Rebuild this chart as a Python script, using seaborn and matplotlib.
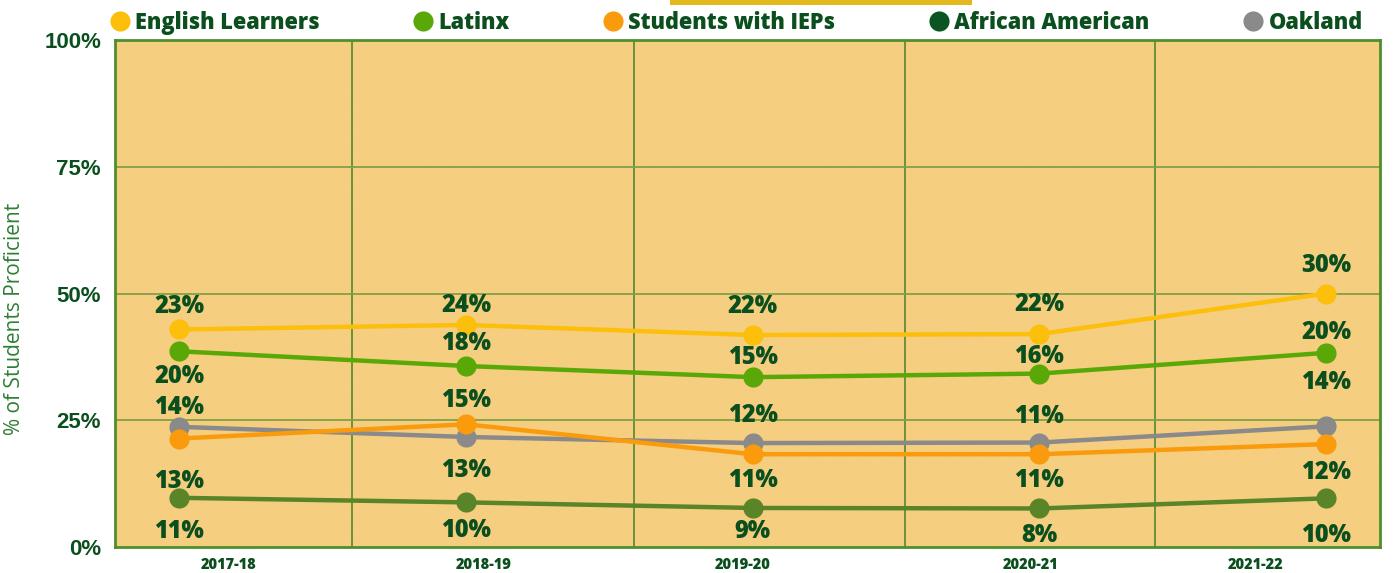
import numpy as np
import pandas as pd
import matplotlib
matplotlib.use('Agg')
import matplotlib.pyplot as plt
import seaborn as sns
from matplotlib.lines import Line2D
from matplotlib.patches import Rectangle

# ---------------- data ----------------
years = ['2017-18', '2018-19', '2019-20', '2020-21', '2021-22']
series_names = ['English Learners', 'Latinx', 'Students with IEPs', 'African American', 'Oakland']

english_learners = [42.9, 43.8, 41.8, 42.0, 50.0]
latinx = [38.6, 35.7, 33.5, 34.2, 38.3]
students_with_ieps = [21.4, 24.2, 18.3, 18.3, 20.3]
african_american = [9.7, 8.8, 7.7, 7.6, 9.6]
oakland = [23.7, 21.7, 20.5, 20.6, 23.8]

el_labels = ['23%', '24%', '22%', '22%', '30%']
latinx_labels = ['20%', '18%', '15%', '16%', '20%']
iep_labels = ['14%', '15%', '12%', '11%', '14%']
oakland_labels = ['13%', '13%', '11%', '11%', '12%']
aa_labels = ['11%', '10%', '9%', '8%', '10%']

y_ticks = [0, 25, 50, 75, 100]
y_tick_labels = ['0%', '25%', '50%', '75%', '100%']

# ---------------- styles / layout ----------------
line_colors = {'English Learners': '#FBBF0C', 'Latinx': '#5AA808',
               'Students with IEPs': '#F99B0C', 'African American': '#5A8428',
               'Oakland': '#8A8A8A'}
legend_colors = {'English Learners': '#FBBF0C', 'Latinx': '#5AA808',
                 'Students with IEPs': '#F99B0C', 'African American': '#0A5522',
                 'Oakland': '#8A8A8A'}
draw_order = ['Oakland', 'African American', 'Students with IEPs', 'Latinx', 'English Learners']
label_offsets = {
    'English Learners': [4.5, 3.9, 5.6, 5.8, 5.6],
    'Latinx': [-4.9, 4.4, 3.9, 3.4, 4.1],
    'Students with IEPs': [6.2, 4.6, 7.7, 7.4, 12.1],
    'Oakland': [-10.7, -6.6, -7.3, -7.4, -9.1],
    'African American': [-6.7, -5.6, -4.7, -5.3, -7.3],
}
grid_x = [0.601, 1.586, 2.531, 3.403]
tick_x_shift = [0.173, 0.063, -0.034, -0.029, -0.245]
DARK = '#0B4F1E'

values = {'English Learners': english_learners, 'Latinx': latinx,
          'Students with IEPs': students_with_ieps, 'African American': african_american,
          'Oakland': oakland}
labels = {'English Learners': el_labels, 'Latinx': latinx_labels,
          'Students with IEPs': iep_labels, 'Oakland': oakland_labels,
          'African American': aa_labels}

rows = []
for name in draw_order:
    for i, (yr, v) in enumerate(zip(years, values[name])):
        rows.append({'pos': i, 'year': yr, 'series': name, 'value': v})
df = pd.DataFrame(rows)

plt.rcParams['font.family'] = ['Open Sans', 'DejaVu Sans']
plt.rcParams['hatch.linewidth'] = 1.0

fig = plt.figure(figsize=(13.96, 5.73), dpi=100)
fig.patch.set_facecolor('white')
ax = fig.add_axes([115 / 1396, 1 - 547 / 573, 1265 / 1396, 507 / 573])
ax.set_facecolor('#F1C263')

# hatched background stripes
bg = Rectangle((0, 0), 1, 1, transform=ax.transAxes, facecolor='none',
               edgecolor='#F6CF82', hatch='/' * 16, linewidth=1, zorder=0)
ax.add_patch(bg)

sns.lineplot(data=df, x='pos', y='value', hue='series', hue_order=draw_order,
             palette=line_colors, marker='o', markersize=14.5, markeredgewidth=0,
             linewidth=3.2, legend=False, ax=ax, zorder=3)

for name in series_names:
    for i, (v, lab, off) in enumerate(zip(values[name], labels[name], label_offsets[name])):
        ax.text(i, v + off, lab, ha='center', va='center', fontsize=17,
                fontweight='heavy', color=DARK, zorder=5)

ax.set_xlim(-0.2243, 4.188)
ax.set_ylim(0, 100)

ax.set_yticks(y_ticks)
ax.set_yticklabels(y_tick_labels, fontsize=16, fontweight='bold', color=DARK,
                   family=['Liberation Sans', 'DejaVu Sans'])
ax.set_xticks([i + s for i, s in enumerate(tick_x_shift)])
ax.set_xticklabels(years, fontsize=10.5, fontweight='heavy', color=DARK)
ax.tick_params(axis='both', which='both', length=0)
ax.tick_params(axis='y', pad=10)
ax.tick_params(axis='x', pad=7)

ax.grid(False)
for gx in grid_x:
    ax.axvline(gx, color='#5E8E34', linewidth=1.3, zorder=1)
for gy in [25, 50, 75]:
    ax.axhline(gy, color='#82A047', linewidth=1.3, zorder=1)

for sp in ax.spines.values():
    sp.set_color('#4E8F2E')
    sp.set_linewidth(2)

ax.set_xlabel('')
ax.set_ylabel('% of Students Proficient', fontsize=15, color='#2F7F35')
ax.yaxis.set_label_coords(-0.0711, 0.449)

handles = [Line2D([0], [0], marker='o', linestyle='none', markersize=14.5,
                  markerfacecolor=legend_colors[n], markeredgewidth=0) for n in series_names]
leg = fig.legend(handles, series_names, loc='center left',
                 bbox_to_anchor=(112 / 1396, 1 - 23 / 573), ncol=5, frameon=False,
                 prop={'size': 15.7, 'weight': 'heavy'}, handlelength=0.7,
                 handletextpad=0.35, columnspacing=4.4, borderaxespad=0, borderpad=0)
for t in leg.get_texts():
    t.set_color(DARK)

# cropped title box at the top
fig.patches.append(Rectangle((670 / 1396, 1 - 5 / 573), 302 / 1396, 5 / 573,
                             transform=fig.transFigure, facecolor='#E3B81C',
                             edgecolor='none'))

fig.savefig('out.png', dpi=100)
